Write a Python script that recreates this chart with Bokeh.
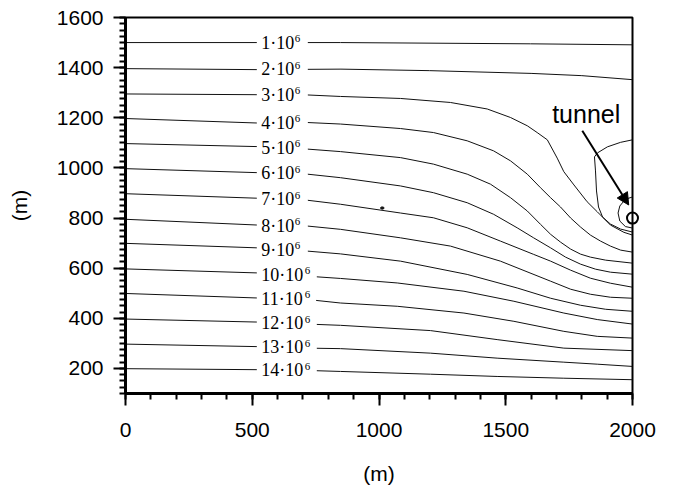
import numpy as np
from bokeh.plotting import figure
from bokeh.models import (Range1d, SingleIntervalTicker, ColumnDataSource,
                          LabelSet, Label, Arrow, NormalHead)
from bokeh.embed import file_html
from bokeh.resources import INLINE

# ---------------- data (metres) ----------------
label_mantissa = ["1", "2", "3", "4", "5", "6", "7", "8", "9", "10", "11", "12", "13", "14"]
label_exponent = "6"

c01_x = [0, 848, 1598, 2000]
c01_y = [1500, 1500, 1495, 1491]
c02_x = [0, 520, 850, 1200, 1600, 1800, 2000]
c02_y = [1396, 1392, 1394, 1388, 1377, 1368, 1352]
c03_x = [0, 521, 718, 848, 1085, 1282, 1427, 1519, 1585, 1624, 1664, 1703, 1729, 1769, 1821, 1861, 1913, 1966, 2000]
c03_y = [1295, 1292, 1291, 1285, 1277, 1261, 1235, 1201, 1168, 1141, 1112, 1039, 985, 932, 865, 825, 772, 743, 732]
c04_x = [0, 521, 718, 848, 1085, 1215, 1348, 1452, 1519, 1585, 1637, 1677, 1716, 1756, 1795, 1834, 1874, 1913, 1953, 2000]
c04_y = [1197, 1179, 1181, 1175, 1157, 1141, 1108, 1068, 1028, 975, 921, 881, 844, 800, 764, 732, 708, 688, 672, 664]
c05_x = [0, 521, 718, 848, 1085, 1215, 1348, 1440, 1519, 1585, 1637, 1677, 1716, 1756, 1795, 1834, 1894, 2000]
c05_y = [1097, 1085, 1075, 1065, 1041, 1015, 975, 935, 881, 828, 775, 735, 704, 676, 656, 644, 632, 620]
c06_x = [0, 521, 718, 848, 1085, 1215, 1348, 1452, 1545, 1610, 1677, 1736, 1795, 1854, 1913, 2000]
c06_y = [997, 981, 975, 961, 928, 901, 861, 815, 761, 721, 681, 644, 616, 596, 584, 576]
c07_x = [0, 521, 718, 848, 1085, 1215, 1348, 1479, 1610, 1677, 1756, 1834, 1913, 2000]
c07_y = [897, 879, 871, 855, 820, 801, 761, 708, 655, 628, 592, 560, 540, 524]
c08_x = [0, 521, 718, 848, 1085, 1282, 1479, 1677, 1756, 1834, 1913, 2000]
c08_y = [795, 772, 768, 755, 721, 688, 628, 548, 516, 496, 484, 480]
c09_x = [0, 521, 718, 848, 1085, 1348, 1545, 1677, 1795, 1894, 2000]
c09_y = [699, 681, 668, 657, 628, 575, 521, 480, 452, 436, 428]
c10_x = [0, 521, 718, 848, 1072, 1335, 1532, 1729, 1861, 2000]
c10_y = [597, 581, 568, 559, 541, 508, 468, 421, 395, 377]
c11_x = [0, 521, 718, 848, 1072, 1335, 1532, 1729, 1861, 2000]
c11_y = [499, 481, 475, 461, 448, 421, 388, 348, 328, 321]
c12_x = [0, 521, 718, 848, 1203, 1466, 1729, 2000]
c12_y = [397, 385, 377, 372, 351, 315, 281, 271]
c13_x = [0, 521, 718, 848, 1203, 1466, 1729, 1861, 2000]
c13_y = [297, 287, 281, 279, 261, 241, 225, 217, 208]
c14_x = [0, 521, 718, 848, 1203, 1466, 1729, 2000]
c14_y = [199, 195, 192, 188, 177, 168, 161, 155]

# partial contour near the tunnel and the small arc round it
part_x = [2000, 1953, 1901, 1862, 1850, 1854, 1858, 1866, 1882, 1913, 1953, 2000]
part_y = [1112, 1102, 1084, 1060, 1044, 988, 908, 844, 804, 776, 756, 744]
arc_x = [2000, 1972, 1950, 1943, 1950, 1972, 2000]
arc_y = [884, 875, 848, 820, 788, 766, 760]

tunnel_x, tunnel_y = 2000, 800
dot_x, dot_y = 1013, 840
arrow_start = (1802, 1148)
arrow_end = (1985, 852)
tunnel_text_pos = (1683, 1215)
label_x = 518     # left edge of the contour labels (incl. gap)
label_at = 620    # where the label sits on each line

contours_x = [c01_x, c02_x, c03_x, c04_x, c05_x, c06_x, c07_x,
              c08_x, c09_x, c10_x, c11_x, c12_x, c13_x, c14_x]
contours_y = [c01_y, c02_y, c03_y, c04_y, c05_y, c06_y, c07_y,
              c08_y, c09_y, c10_y, c11_y, c12_y, c13_y, c14_y]

FONT = "Liberation Sans"
MAIN_PX = 18
SUP_PX = 11
NB = "\u00a0"

p = figure(width=676, height=487, x_range=Range1d(0, 2000), y_range=Range1d(100, 1600),
           output_backend="svg", toolbar_location=None,
           min_border_left=125, min_border_right=44, min_border_top=17, min_border_bottom=94)
p.grid.visible = False
p.outline_line_color = "black"
p.outline_line_width = 2
p.background_fill_color = "white"
p.border_fill_color = "white"

p.xaxis.ticker = SingleIntervalTicker(interval=500, num_minor_ticks=5)
p.yaxis.ticker = SingleIntervalTicker(interval=200, num_minor_ticks=8)
for ax in (p.xaxis[0], p.yaxis[0]):
    ax.axis_line_width = 3
    ax.major_tick_line_width = 2
    ax.minor_tick_line_width = 2
    ax.major_tick_out = 12
    ax.major_tick_in = 0
    ax.minor_tick_out = 6
    ax.minor_tick_in = 0
    ax.major_label_text_font = FONT
    ax.major_label_text_font_size = "21px"
    ax.major_label_text_color = "black"
    ax.axis_label = "(m)"
    ax.axis_label_text_font = FONT
    ax.axis_label_text_font_size = "21px"
    ax.axis_label_text_font_style = "normal"
    ax.axis_label_text_color = "black"
p.xaxis.major_label_standoff = 17
p.xaxis.axis_label_standoff = 22
p.yaxis.major_label_standoff = 10
p.yaxis.axis_label_standoff = 23

p.multi_line(xs=contours_x, ys=contours_y, line_color="#111111", line_width=1)
p.line(part_x, part_y, line_color="#111111", line_width=1)
p.line(arc_x, arc_y, line_color="#111111", line_width=1)
p.ellipse([dot_x], [dot_y], width=14, height=9, color="#111111")
tun = p.scatter([tunnel_x], [tunnel_y], size=11, marker="circle", fill_color=None,
                line_color="black", line_width=2)
tun.level = "overlay"

# contour labels "N·10" with a raised exponent
lab_y = [float(np.interp(label_at, cx, cy)) for cx, cy in zip(contours_x, contours_y)]
main_text = [NB + m + "·10" + NB * 3 for m in label_mantissa]
nb_w = 0.278 * MAIN_PX
sup_off = [nb_w + (0.556 * (len(m) + 2) + 0.278) * MAIN_PX - 2 for m in label_mantissa]
src = ColumnDataSource(dict(x=[label_x] * len(lab_y), y=lab_y, text=main_text,
                            sup=[label_exponent] * len(lab_y), xo=sup_off))
p.add_layout(LabelSet(x="x", y="y", text="text", source=src, text_align="left",
                      text_baseline="middle", text_font=FONT, text_font_size=f"{MAIN_PX}px",
                      text_color="black", background_fill_color="white"))
p.add_layout(LabelSet(x="x", y="y", text="sup", source=src, x_offset="xo", y_offset=4,
                      text_align="left", text_baseline="middle", text_font=FONT,
                      text_font_size=f"{SUP_PX}px", text_color="black"))

p.add_layout(Arrow(end=NormalHead(size=12, fill_color="black", line_color="black"),
                   x_start=arrow_start[0], y_start=arrow_start[1],
                   x_end=arrow_end[0], y_end=arrow_end[1],
                   line_width=2, line_color="black"))
p.add_layout(Label(x=tunnel_text_pos[0], y=tunnel_text_pos[1], text="tunnel",
                   text_font=FONT, text_font_size="25px", text_color="black",
                   text_baseline="alphabetic"))

open("out.html", "w").write(file_html(p, INLINE))
